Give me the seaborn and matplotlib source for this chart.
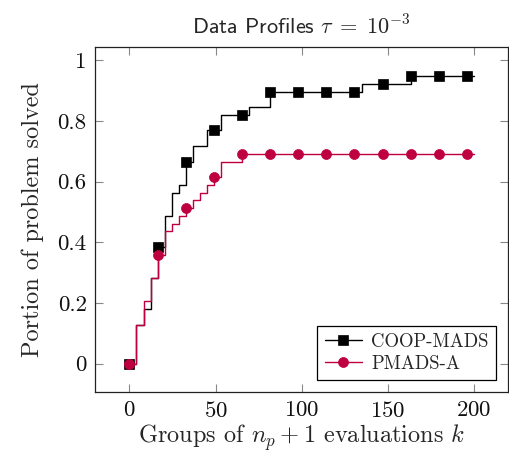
import numpy as np
import matplotlib
matplotlib.use("Agg")
import matplotlib.pyplot as plt
import seaborn as sns

# 39 problems, 50 groups of evaluations (0..200)
n_problems = 39
groups = np.linspace(0, 200, 50)

coop_mads = [0, 5, 7, 11, 15, 19, 22, 23, 26, 28, 28, 30, 30, 32, 32, 32, 32, 33, 33, 33,
             35, 35, 35, 35, 35, 35, 35, 35, 35, 35, 35, 35, 35, 36, 36, 36, 36, 36, 36, 36,
             37, 37, 37, 37, 37, 37, 37, 37, 37, 37]
pmads_a = [0, 5, 8, 11, 14, 17, 18, 19, 20, 21, 22, 23, 24, 26, 26, 26, 27, 27, 27, 27,
           27, 27, 27, 27, 27, 27, 27, 27, 27, 27, 27, 27, 27, 27, 27, 27, 27, 27, 27, 27,
           27, 27, 27, 27, 27, 27, 27, 27, 27, 27]

sns.set_theme(style="white")
plt.rcParams['font.family'] = ['cmr10', 'DejaVu Serif']
plt.rcParams['mathtext.fontset'] = 'cm'
plt.rcParams['axes.formatter.use_mathtext'] = True

fig = plt.figure(figsize=(5.09, 4.55), dpi=100)
ax = fig.add_axes([0.1866, 0.1378, 0.8124, 0.7583])

purple = '#BF0040'
sns.lineplot(x=groups, y=np.array(coop_mads) / n_problems, ax=ax, color='black',
             linewidth=1.0, drawstyle='steps-post', marker='s', markersize=6.8,
             markevery=4, markeredgewidth=0.5, markeredgecolor='black',
             label='COOP-MADS', sort=False, estimator=None)
sns.lineplot(x=groups, y=np.array(pmads_a) / n_problems, ax=ax, color=purple,
             linewidth=1.0, drawstyle='steps-post', marker='o', markersize=7.2,
             markevery=4, markeredgewidth=0.5, markeredgecolor=purple,
             label='PMADS-A', sort=False, estimator=None)

ax.set_xlim(-20, 220)
ax.set_ylim(-0.0949, 1.0436)
ax.set_xticks([0, 50, 100, 150, 200])
ax.set_yticks([0, 0.2, 0.4, 0.6, 0.8, 1])
ax.set_yticklabels(['0', '0.2', '0.4', '0.6', '0.8', '1'])

ax.tick_params(direction='in', length=6, width=0.8, color='#888888',
               top=True, right=True, bottom=True, left=True,
               labelsize=16.5, pad=6, labelcolor='#111111')
for s in ax.spines.values():
    s.set_color('#222222')
    s.set_linewidth(0.9)

ax.set_xlabel(r'Groups of $n_p + 1$ evaluations $k$', fontsize=17.5, labelpad=1)
ax.set_ylabel('Portion of problem solved', fontsize=17.5, labelpad=10)
ax.set_title(r'Data Profiles $\tau\;=\;10^{-3}$', fontsize=16, pad=9,
             family=['cmss10', 'DejaVu Sans'])

leg = ax.legend(loc='lower right', fontsize=13.5, frameon=True, fancybox=False,
                edgecolor='black', framealpha=1, borderpad=0.4,
                handlelength=2.0, handletextpad=0.5, labelspacing=0.2,
                borderaxespad=0.65)
leg.get_frame().set_linewidth(0.9)

fig.savefig('out.png', dpi=100)
